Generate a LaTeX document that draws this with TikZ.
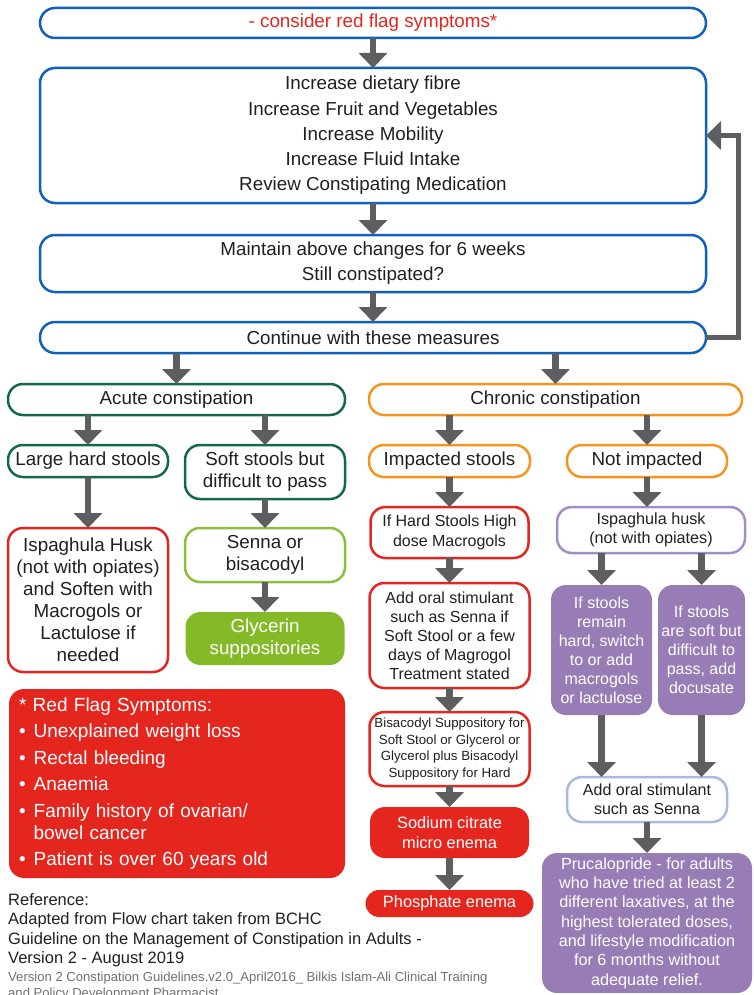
\documentclass[tikz,border=0pt]{standalone}
\usepackage{fontspec}
\setmainfont{Liberation Sans}
\usetikzlibrary{positioning, arrows.meta}
\definecolor{flowblue}{RGB}{16,96,190}
\definecolor{flagred}{RGB}{228,38,30}
\definecolor{acutegreen}{RGB}{20,104,78}
\definecolor{limegreen}{RGB}{140,192,58}
\definecolor{glycgreen}{RGB}{132,186,40}
\definecolor{chronorange}{RGB}{247,148,30}
\definecolor{mauve}{RGB}{152,124,182}
\definecolor{mauveline}{RGB}{162,142,196}
\definecolor{paleblue}{RGB}{168,186,226}
\definecolor{arrowgray}{RGB}{94,94,96}
\definecolor{ink}{RGB}{35,31,32}
\definecolor{notegray}{RGB}{112,112,112}
\newcommand{\fsbig}{\fontsize{18.8}{22}\selectfont}
\newcommand{\fsmid}{\fontsize{16}{19}\selectfont}
\newcommand{\fssmall}{\fontsize{13.3}{16.5}\selectfont}

\begin{document}
\begin{tikzpicture}[
		x=1pt, y=-1pt,
		box/.style={draw, rectangle, rounded corners=15pt, align=center, line width=2.5pt, fill=white, text=ink, inner sep=2pt, outer sep=0pt, font=\fsbig},
		fillbox/.style={box, draw=none, text=white},
		arrow/.style={-{Triangle[width=28pt,length=15pt]}, line width=6.5pt, draw=arrowgray}
		]
		\useasboundingbox (0,0) rectangle (754,995);
		
		% Lifestyle steps
		\node[box, draw=flowblue, text=flagred, minimum width=666pt, minimum height=30pt] (flag) at (373,23) {- consider red flag symptoms*};
		\node[box, draw=flowblue, minimum width=666pt, minimum height=135pt, font=\fontsize{18.8}{25.3}\selectfont, below=30pt of flag] (life) {Increase dietary fibre\\Increase Fruit and Vegetables\\Increase Mobility\\Increase Fluid Intake\\Review Constipating Medication};
		\node[box, draw=flowblue, minimum width=666pt, minimum height=57pt, font=\fontsize{18.8}{25}\selectfont, below=32pt of life] (maint) {Maintain above changes for 6 weeks\\Still constipated?};
		\node[box, draw=flowblue, minimum width=666pt, minimum height=31pt, below=30pt of maint] (cont) {Continue with these measures};
		
		% Two branches
		\node[box, draw=acutegreen, minimum width=337pt, minimum height=31pt] (acute) at (176.5,399.5) {Acute constipation};
		\node[box, draw=chronorange, minimum width=373pt, minimum height=31pt] (chronic) at (555.5,399.5) {Chronic constipation};
		
		\node[box, draw=acutegreen, minimum width=160pt, minimum height=32pt, below right=30pt and 0pt of acute.south west] (large) {Large hard stools};
		\node[box, draw=acutegreen, minimum width=160pt, minimum height=54pt, below left=30pt and 0pt of acute.south east] (soft) {Soft stools but\\difficult to pass};
		\node[box, draw=chronorange, minimum width=161pt, minimum height=32pt, below right=30pt and 0pt of chronic.south west] (impacted) {Impacted stools};
		\node[box, draw=chronorange, minimum width=160pt, minimum height=32pt, below left=30pt and 15pt of chronic.south east] (notimp) {Not impacted};
		
		% Acute treatments
		\node[box, draw=flagred, minimum width=160pt, minimum height=144pt, below=51pt of large] (husk) {Ispaghula Husk\\(not with opiates)\\and Soften with\\Macrogols or\\Lactulose if\\needed};
		\node[box, draw=limegreen, minimum width=160pt, minimum height=54pt, below=29pt of soft] (senna) {Senna or\\bisacodyl};
		\node[fillbox, fill=glycgreen, minimum width=159pt, minimum height=53pt, below=30pt of senna] (glycerin) {Glycerin\\suppositories};
		
		\node[fillbox, fill=flagred, align=left, text width=316pt, inner xsep=10pt, minimum height=189pt, font=\fontsize{19}{22}\selectfont, below right=17pt and 1pt of husk.south west] (redflags) {* Red Flag Symptoms:\\[4.5pt]
			\textbullet\hspace{8pt}Unexplained weight loss\\[4.5pt]
			\textbullet\hspace{8pt}Rectal bleeding\\[4.5pt]
			\textbullet\hspace{8pt}Anaemia\\[4.5pt]
			\textbullet\hspace{8pt}Family history of ovarian/\\
			\hphantom{\textbullet\hspace{8pt}}bowel cancer\\[4.5pt]
			\textbullet\hspace{8pt}Patient is over 60 years old};
		
		% Impacted stools
		\node[box, draw=flagred, minimum width=158pt, minimum height=51pt, font=\fontsize{16}{20}\selectfont, below=30pt of impacted] (hardmac) {If Hard Stools High\\dose Macrogols};
		\node[box, draw=flagred, minimum width=160pt, minimum height=105pt, font=\fsmid, below=25pt of hardmac] (addoral) {Add oral stimulant\\such as Senna if\\Soft Stool or a few\\days of Magrogol\\Treatment stated};
		\node[box, draw=flagred, minimum width=160pt, minimum height=74pt, font=\fssmall, below=24pt of addoral] (bisacodyl) {Bisacodyl Suppository for\\Soft Stool or Glycerol or\\Glycerol plus Bisacodyl\\Suppository for Hard};
		\node[fillbox, fill=flagred, minimum width=159pt, minimum height=51pt, font=\fontsize{16.4}{20}\selectfont, below=21pt of bisacodyl] (sodium) {Sodium citrate\\micro enema};
		\node[fillbox, fill=flagred, rounded corners=13.5pt, minimum width=168pt, minimum height=27pt, font=\fontsize{16.4}{20}\selectfont, below=32pt of sodium] (phosphate) {Phosphate enema};
		
		% Not impacted
		\node[box, draw=mauveline, minimum width=188pt, minimum height=46pt, font=\fontsize{16.2}{19.5}\selectfont, below=30pt of notimp, xshift=4pt] (ispaghula) {Ispaghula husk\\(not with opiates)};
		\node[fillbox, fill=mauve, minimum width=101pt, minimum height=130pt, font=\fsmid, below right=32pt and -6pt of ispaghula.south west] (remain) {If stools\\remain\\hard, switch\\to or add\\macrogols\\or lactulose};
		\node[fillbox, fill=mauve, minimum width=87pt, minimum height=130pt, font=\fsmid, below left=32pt and 0pt of ispaghula.south east] (softpass) {If stools\\are soft but\\difficult to\\pass, add\\docusate};
		\node[box, draw=paleblue, minimum width=160pt, minimum height=45pt, font=\fsmid, anchor=north] (stimulant) at ([yshift=-62pt]notimp.south |- remain.south) {Add oral stimulant\\such as Senna};
		\node[fillbox, fill=mauve, minimum width=210pt, minimum height=140pt, font=\fontsize{16.2}{19.3}\selectfont, below=31pt of stimulant] (prucalopride) {Prucalopride - for adults\\who have tried at least 2\\different laxatives, at the\\highest tolerated doses,\\and lifestyle modification\\for 6 months without\\adequate relief.};
		
		% Reference notes
		\node[anchor=north west, align=left, text=ink, font=\fontsize{16.5}{19.5}\selectfont, inner sep=0pt, below right=15pt and -1pt of redflags.south west] (reference) {Reference:\\Adapted from Flow chart taken from BCHC\\Guideline on the Management of Constipation in Adults -\\Version 2 - August 2019};
		\node[anchor=north west, align=left, text=notegray, font=\fontsize{13.1}{16}\selectfont, inner sep=0pt, below right=4.5pt and 0pt of reference.south west] (version) {Version 2 Constipation Guidelines.v2.0\_April2016\_ Bilkis Islam-Ali Clinical Training\\and Policy Development Pharmacist};
		
		% Arrows down the main column
		\draw[arrow] (flag) -- (life);
		\draw[arrow] (life) -- (maint);
		\draw[arrow] (maint) -- (cont);
		\draw[arrow, line width=5pt] (cont.east) -- ++(32pt,0) |- (life.east);
		\draw[arrow] (acute.north |- cont.south) -- (acute.north);
		\draw[arrow] (chronic.north |- cont.south) -- (chronic.north);
		
		% Acute branch
		\draw[arrow] (large.north |- acute.south) -- (large.north);
		\draw[arrow] (soft.north |- acute.south) -- (soft.north);
		\draw[arrow] (large) -- (husk);
		\draw[arrow] (soft) -- (senna);
		\draw[arrow] (senna) -- (glycerin);
		
		% Chronic branch
		\draw[arrow] (impacted.north |- chronic.south) -- (impacted.north);
		\draw[arrow] (notimp.north |- chronic.south) -- (notimp.north);
		\draw[arrow] (impacted) -- (hardmac);
		\draw[arrow] (hardmac) -- (addoral);
		\draw[arrow] (addoral) -- (bisacodyl);
		\draw[arrow] (bisacodyl) -- (sodium);
		\draw[arrow] (sodium) -- (phosphate);
		\draw[arrow] (notimp.south) -- (notimp.south |- ispaghula.north);
		\draw[arrow] (remain.north |- ispaghula.south) -- (remain.north);
		\draw[arrow] (softpass.north |- ispaghula.south) -- (softpass.north);
		\draw[arrow] (remain.south) -- (remain.south |- stimulant.north);
		\draw[arrow] (softpass.south) -- (softpass.south |- stimulant.north);
		\draw[arrow] (stimulant) -- (prucalopride);
		
	\end{tikzpicture}
\end{document}
